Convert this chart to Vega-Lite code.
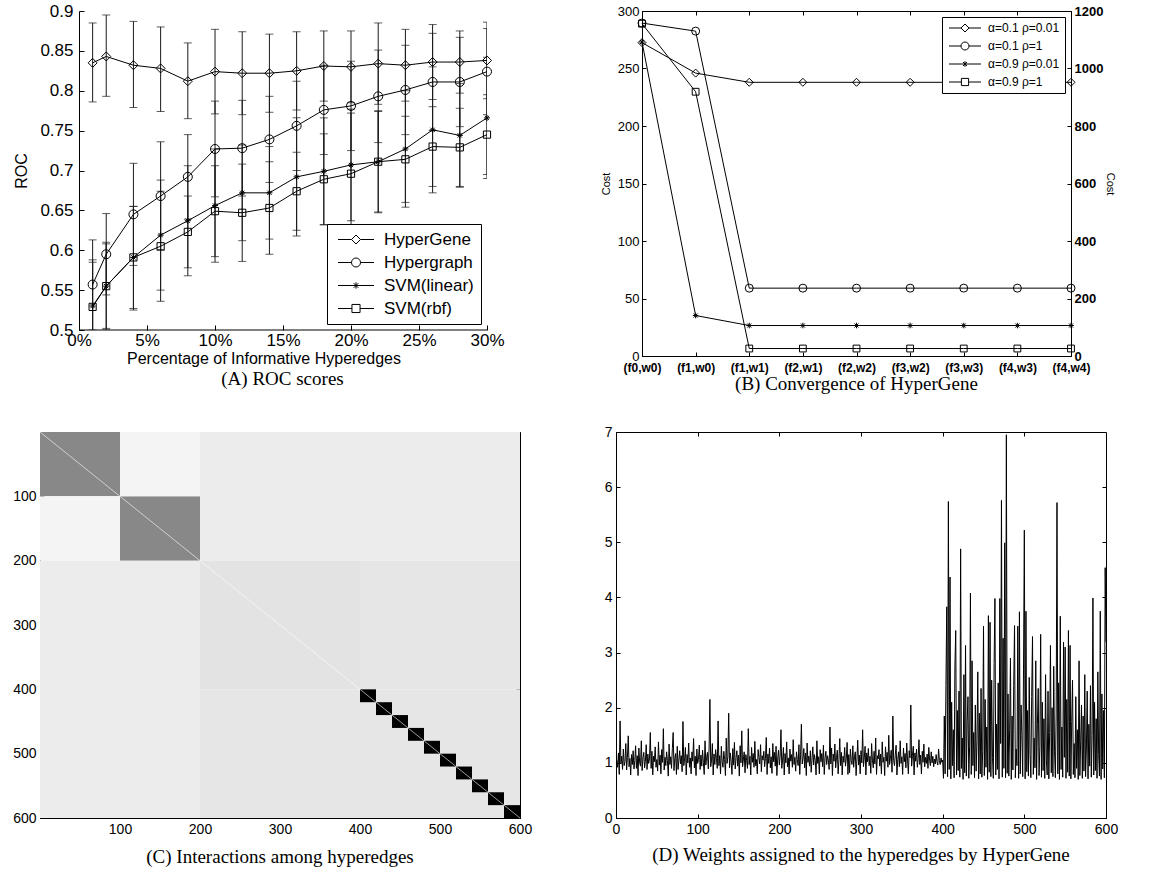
{
"$schema": "https://vega.github.io/schema/vega-lite/v6.json",
"background": "white",
"padding": {"left": 12, "top": 2, "right": 0, "bottom": 0},
"spacing": 29,
"resolve": {"scale": {"shape": "independent", "color": "independent"}},
"config": {
 "font": "Liberation Sans",
 "view": {"stroke": null},
 "axis": {"grid": false, "domainColor": "black", "tickColor": "black", "labelColor": "black", "titleColor": "black", "titleFontWeight": "normal", "tickSize": -4, "labelPadding": 8, "labelOverlap": false, "labelFlush": false, "domainWidth": 1, "tickWidth": 1, "labelFontSize": 14, "titleFontSize": 14},
 "legend": {"strokeColor": "black", "fillColor": "white", "cornerRadius": 0, "labelColor": "black"},
 "title": {"font": "Liberation Serif", "fontSize": 19, "fontWeight": "normal", "color": "black", "anchor": "middle", "frame": "group"}
},
"vconcat": [
 {"spacing": 80, "resolve": {"scale": {"shape": "independent", "color": "independent"}}, "hconcat": [
  {
   "width": 447, "height": 319,
   "title": {"text": "(A) ROC scores", "orient": "bottom", "offset": 4, "dx": 19},
   "data": {"values": [
    {"p":1,"s":"HyperGene","m":0.835,"lo":0.786,"hi":0.885},
    {"p":2,"s":"HyperGene","m":0.843,"lo":0.793,"hi":0.895},
    {"p":4,"s":"HyperGene","m":0.832,"lo":0.779,"hi":0.887},
    {"p":6,"s":"HyperGene","m":0.828,"lo":0.774,"hi":0.880},
    {"p":8,"s":"HyperGene","m":0.812,"lo":0.765,"hi":0.860},
    {"p":10,"s":"HyperGene","m":0.824,"lo":0.771,"hi":0.877},
    {"p":12,"s":"HyperGene","m":0.822,"lo":0.770,"hi":0.874},
    {"p":14,"s":"HyperGene","m":0.822,"lo":0.773,"hi":0.871},
    {"p":16,"s":"HyperGene","m":0.825,"lo":0.776,"hi":0.874},
    {"p":18,"s":"HyperGene","m":0.831,"lo":0.787,"hi":0.875},
    {"p":20,"s":"HyperGene","m":0.830,"lo":0.785,"hi":0.875},
    {"p":22,"s":"HyperGene","m":0.834,"lo":0.783,"hi":0.885},
    {"p":24,"s":"HyperGene","m":0.832,"lo":0.787,"hi":0.877},
    {"p":26,"s":"HyperGene","m":0.836,"lo":0.789,"hi":0.883},
    {"p":28,"s":"HyperGene","m":0.836,"lo":0.797,"hi":0.875},
    {"p":30,"s":"HyperGene","m":0.838,"lo":0.790,"hi":0.886},
    {"p":1,"s":"Hypergraph","m":0.557,"lo":0.500,"hi":0.613},
    {"p":2,"s":"Hypergraph","m":0.595,"lo":0.544,"hi":0.646},
    {"p":4,"s":"Hypergraph","m":0.645,"lo":0.581,"hi":0.709},
    {"p":6,"s":"Hypergraph","m":0.668,"lo":0.600,"hi":0.736},
    {"p":8,"s":"Hypergraph","m":0.692,"lo":0.639,"hi":0.745},
    {"p":10,"s":"Hypergraph","m":0.727,"lo":0.667,"hi":0.787},
    {"p":12,"s":"Hypergraph","m":0.728,"lo":0.668,"hi":0.788},
    {"p":14,"s":"Hypergraph","m":0.739,"lo":0.685,"hi":0.793},
    {"p":16,"s":"Hypergraph","m":0.756,"lo":0.700,"hi":0.812},
    {"p":18,"s":"Hypergraph","m":0.776,"lo":0.720,"hi":0.832},
    {"p":20,"s":"Hypergraph","m":0.781,"lo":0.725,"hi":0.837},
    {"p":22,"s":"Hypergraph","m":0.793,"lo":0.735,"hi":0.851},
    {"p":24,"s":"Hypergraph","m":0.801,"lo":0.745,"hi":0.857},
    {"p":26,"s":"Hypergraph","m":0.811,"lo":0.750,"hi":0.872},
    {"p":28,"s":"Hypergraph","m":0.811,"lo":0.755,"hi":0.867},
    {"p":30,"s":"Hypergraph","m":0.824,"lo":0.770,"hi":0.878},
    {"p":1,"s":"SVM(linear)","m":0.530,"lo":0.475,"hi":0.585},
    {"p":2,"s":"SVM(linear)","m":0.555,"lo":0.500,"hi":0.610},
    {"p":4,"s":"SVM(linear)","m":0.591,"lo":0.525,"hi":0.655},
    {"p":6,"s":"SVM(linear)","m":0.619,"lo":0.550,"hi":0.688},
    {"p":8,"s":"SVM(linear)","m":0.637,"lo":0.568,"hi":0.706},
    {"p":10,"s":"SVM(linear)","m":0.656,"lo":0.585,"hi":0.727},
    {"p":12,"s":"SVM(linear)","m":0.672,"lo":0.612,"hi":0.732},
    {"p":14,"s":"SVM(linear)","m":0.672,"lo":0.614,"hi":0.730},
    {"p":16,"s":"SVM(linear)","m":0.692,"lo":0.618,"hi":0.766},
    {"p":18,"s":"SVM(linear)","m":0.699,"lo":0.632,"hi":0.766},
    {"p":20,"s":"SVM(linear)","m":0.707,"lo":0.637,"hi":0.777},
    {"p":22,"s":"SVM(linear)","m":0.711,"lo":0.648,"hi":0.774},
    {"p":24,"s":"SVM(linear)","m":0.727,"lo":0.654,"hi":0.800},
    {"p":26,"s":"SVM(linear)","m":0.751,"lo":0.672,"hi":0.830},
    {"p":28,"s":"SVM(linear)","m":0.744,"lo":0.679,"hi":0.809},
    {"p":30,"s":"SVM(linear)","m":0.766,"lo":0.690,"hi":0.842},
    {"p":1,"s":"SVM(rbf)","m":0.529,"lo":0.470,"hi":0.588},
    {"p":2,"s":"SVM(rbf)","m":0.555,"lo":0.502,"hi":0.608},
    {"p":4,"s":"SVM(rbf)","m":0.591,"lo":0.527,"hi":0.655},
    {"p":6,"s":"SVM(rbf)","m":0.605,"lo":0.536,"hi":0.674},
    {"p":8,"s":"SVM(rbf)","m":0.623,"lo":0.578,"hi":0.668},
    {"p":10,"s":"SVM(rbf)","m":0.649,"lo":0.592,"hi":0.706},
    {"p":12,"s":"SVM(rbf)","m":0.647,"lo":0.586,"hi":0.708},
    {"p":14,"s":"SVM(rbf)","m":0.653,"lo":0.595,"hi":0.711},
    {"p":16,"s":"SVM(rbf)","m":0.674,"lo":0.625,"hi":0.723},
    {"p":18,"s":"SVM(rbf)","m":0.689,"lo":0.632,"hi":0.746},
    {"p":20,"s":"SVM(rbf)","m":0.696,"lo":0.620,"hi":0.772},
    {"p":22,"s":"SVM(rbf)","m":0.711,"lo":0.647,"hi":0.775},
    {"p":24,"s":"SVM(rbf)","m":0.714,"lo":0.660,"hi":0.768},
    {"p":26,"s":"SVM(rbf)","m":0.730,"lo":0.680,"hi":0.780},
    {"p":28,"s":"SVM(rbf)","m":0.729,"lo":0.680,"hi":0.778},
    {"p":30,"s":"SVM(rbf)","m":0.745,"lo":0.695,"hi":0.795}
   ]},
   "layer": [
    {"encoding": {
      "x": {"field": "p", "type": "quantitative", "scale": {"domain": [-2.87, 30], "nice": false, "zero": false},
       "axis": {"values": [0,5,10,15,20,25,30], "labelExpr": "datum.value + '%'", "title": "Percentage of Informative Hyperedges", "labelFontSize": 17, "titleFontSize": 16, "titlePadding": 2, "tickSize": -5, "labelPadding": 7, "domain": false}},
      "y": {"field": "m", "type": "quantitative", "scale": {"domain": [0.5, 0.9]},
       "axis": {"values": [0.5,0.55,0.6,0.65,0.7,0.75,0.8,0.85,0.9], "format": "~g", "title": "ROC", "labelFontSize": 17, "titleFontSize": 16, "titlePadding": 10, "tickSize": -5, "labelPadding": 11, "offset": -39}}
     },
     "layer": [
      {"data": {"values": [{"x0": 0, "x1": 30, "yb": 0.5}]},
       "mark": {"type": "rule", "color": "black", "strokeWidth": 1},
       "encoding": {"x": {"field": "x0", "type": "quantitative", "title": "Percentage of Informative Hyperedges"}, "x2": {"field": "x1"}, "y": {"field": "yb", "type": "quantitative", "title": "ROC"}}},
      {"mark": {"type": "rule", "clip": true, "strokeWidth": 1, "color": "#1a1a1a"},
       "encoding": {"y": {"field": "lo", "type": "quantitative", "title": "ROC"}, "y2": {"field": "hi"}}},
      {"mark": {"type": "tick", "orient": "horizontal", "size": 8, "thickness": 1, "clip": true, "color": "#1a1a1a"},
       "encoding": {"y": {"field": "lo", "type": "quantitative", "title": "ROC"}}},
      {"mark": {"type": "tick", "orient": "horizontal", "size": 8, "thickness": 1, "clip": true, "color": "#1a1a1a"},
       "encoding": {"y": {"field": "hi", "type": "quantitative", "title": "ROC"}}},
      {"mark": {"type": "line", "color": "black", "strokeWidth": 1},
       "encoding": {"detail": {"field": "s"}}},
      {"mark": {"type": "point", "filled": false, "size": 81, "strokeWidth": 1, "color": "black", "opacity": 1},
       "encoding": {
        "shape": {"field": "s", "type": "nominal",
         "scale": {"domain": ["HyperGene","Hypergraph","SVM(linear)","SVM(rbf)"], "range": ["diamond","circle","M-0.67,0L0.67,0M0,-0.67L0,0.67M-0.47,-0.47L0.47,0.47M-0.47,0.47L0.47,-0.47","M-0.8,-0.8L0.8,-0.8L0.8,0.8L-0.8,0.8Z"]},
         "legend": null}
       }}
     ]},
    {"mark": {"type": "point", "opacity": 0, "filled": false, "color": "black", "size": 81},
     "encoding": {
      "x": {"field": "p", "type": "quantitative", "axis": null},
      "y": {"field": "m", "type": "quantitative", "axis": null},
      "shape": {"field": "s", "type": "nominal",
       "scale": {"domain": ["HyperGene","Hypergraph","SVM(linear)","SVM(rbf)"], "range": ["M-1,0L2,0M4,0L7,0M3,-1L4,0L3,1L2,0Z","M-1,0L2,0M4,0L7,0M2,0A1,1 0 1,0 4,0A1,1 0 1,0 2,0","M-1,0L7,0M3,-0.7L3,0.7M2.5,-0.5L3.5,0.5M2.5,0.5L3.5,-0.5","M-1,0L2.1,0M3.9,0L7,0M2.1,-0.9L3.9,-0.9L3.9,0.9L2.1,0.9Z"]},
       "legend": {"title": null, "orient": "bottom-right", "offset": 6, "padding": 7, "labelFontSize": 17, "symbolSize": 81, "symbolStrokeWidth": 1, "symbolStrokeColor": "black", "symbolFillColor": "transparent", "symbolOpacity": 1, "labelOffset": 33, "rowPadding": 5}}
     }}
   ],
   "resolve": {"scale": {"shape": "independent"}, "axis": {"x": "independent", "y": "independent"}}
  },
  {
   "width": 429, "height": 345,
   "view": {"stroke": "black"},
   "title": {"text": "(B) Convergence of HyperGene", "orient": "bottom", "offset": 2},
   "data": {"values": [
    {"k":"(f0,w0)","s":"α=0.1 ρ=0.01","c":272.5},
    {"k":"(f1,w0)","s":"α=0.1 ρ=0.01","c":246},
    {"k":"(f1,w1)","s":"α=0.1 ρ=0.01","c":238},
    {"k":"(f2,w1)","s":"α=0.1 ρ=0.01","c":238},
    {"k":"(f2,w2)","s":"α=0.1 ρ=0.01","c":238},
    {"k":"(f3,w2)","s":"α=0.1 ρ=0.01","c":238},
    {"k":"(f3,w3)","s":"α=0.1 ρ=0.01","c":238},
    {"k":"(f4,w3)","s":"α=0.1 ρ=0.01","c":238},
    {"k":"(f4,w4)","s":"α=0.1 ρ=0.01","c":238},
    {"k":"(f0,w0)","s":"α=0.1 ρ=1","c":289.5},
    {"k":"(f1,w0)","s":"α=0.1 ρ=1","c":282.5},
    {"k":"(f1,w1)","s":"α=0.1 ρ=1","c":59},
    {"k":"(f2,w1)","s":"α=0.1 ρ=1","c":59},
    {"k":"(f2,w2)","s":"α=0.1 ρ=1","c":59},
    {"k":"(f3,w2)","s":"α=0.1 ρ=1","c":59},
    {"k":"(f3,w3)","s":"α=0.1 ρ=1","c":59},
    {"k":"(f4,w3)","s":"α=0.1 ρ=1","c":59},
    {"k":"(f4,w4)","s":"α=0.1 ρ=1","c":59},
    {"k":"(f0,w0)","s":"α=0.9 ρ=0.01","c":273},
    {"k":"(f1,w0)","s":"α=0.9 ρ=0.01","c":35.2},
    {"k":"(f1,w1)","s":"α=0.9 ρ=0.01","c":26.5},
    {"k":"(f2,w1)","s":"α=0.9 ρ=0.01","c":26.5},
    {"k":"(f2,w2)","s":"α=0.9 ρ=0.01","c":26.5},
    {"k":"(f3,w2)","s":"α=0.9 ρ=0.01","c":26.5},
    {"k":"(f3,w3)","s":"α=0.9 ρ=0.01","c":26.5},
    {"k":"(f4,w3)","s":"α=0.9 ρ=0.01","c":26.5},
    {"k":"(f4,w4)","s":"α=0.9 ρ=0.01","c":26.5},
    {"k":"(f0,w0)","s":"α=0.9 ρ=1","c":289},
    {"k":"(f1,w0)","s":"α=0.9 ρ=1","c":229.8},
    {"k":"(f1,w1)","s":"α=0.9 ρ=1","c":6.5},
    {"k":"(f2,w1)","s":"α=0.9 ρ=1","c":6.5},
    {"k":"(f2,w2)","s":"α=0.9 ρ=1","c":6.5},
    {"k":"(f3,w2)","s":"α=0.9 ρ=1","c":6.5},
    {"k":"(f3,w3)","s":"α=0.9 ρ=1","c":6.5},
    {"k":"(f4,w3)","s":"α=0.9 ρ=1","c":6.5},
    {"k":"(f4,w4)","s":"α=0.9 ρ=1","c":6.5}
   ]},
   "layer": [
    {"encoding": {
      "x": {"field": "k", "type": "ordinal", "sort": null, "scale": {"type": "point", "padding": 0}, "axis": {"title": null, "labelAngle": 0, "labelFontSize": 12, "labelFontWeight": "bold", "labelPadding": 10}},
      "y": {"field": "c", "type": "quantitative", "scale": {"domain": [0, 300]}, "axis": {"values": [0,50,100,150,200,250,300], "title": "Cost", "titleFontSize": 11, "labelFontSize": 13, "labelPadding": 7, "titlePadding": 6}}
     },
     "layer": [
      {"mark": {"type": "line", "color": "black", "strokeWidth": 1}, "encoding": {"detail": {"field": "s"}}},
      {"mark": {"type": "point", "filled": false, "size": 64, "strokeWidth": 1, "color": "black", "opacity": 1},
       "encoding": {
        "shape": {"field": "s", "type": "nominal",
         "scale": {"domain": ["α=0.1 ρ=0.01","α=0.1 ρ=1","α=0.9 ρ=0.01","α=0.9 ρ=1"], "range": ["diamond","circle","M-0.7,0L0.7,0M0,-0.7L0,0.7M-0.5,-0.5L0.5,0.5M-0.5,0.5L0.5,-0.5","M-0.85,-0.85L0.85,-0.85L0.85,0.85L-0.85,0.85Z"]},
         "legend": null}
       }}
     ]},
    {"mark": {"type": "point", "opacity": 0, "filled": false, "color": "black", "size": 64},
     "encoding": {
      "x": {"field": "k", "type": "ordinal", "sort": null, "axis": {"orient": "top", "labels": false, "domain": false, "title": null}},
      "y": {"field": "c", "type": "quantitative", "scale": {"domain": [0, 1200]}, "axis": {"orient": "right", "values": [0,200,400,600,800,1000,1200], "format": "d", "title": "Cost", "titleFontSize": 11, "labelFontSize": 13, "labelFontWeight": "bold", "labelPadding": 7, "titlePadding": 2, "domain": false}},
      "shape": {"field": "s", "type": "nominal",
       "scale": {"domain": ["α=0.1 ρ=0.01","α=0.1 ρ=1","α=0.9 ρ=0.01","α=0.9 ρ=1"], "range": ["M-1,0L2,0M4,0L7,0M3,-1L4,0L3,1L2,0Z","M-1,0L2,0M4,0L7,0M2,0A1,1 0 1,0 4,0A1,1 0 1,0 2,0","M-1,0L7,0M3,-0.7L3,0.7M2.5,-0.5L3.5,0.5M2.5,0.5L3.5,-0.5","M-1,0L2.1,0M3.9,0L7,0M2.1,-0.9L3.9,-0.9L3.9,0.9L2.1,0.9Z"]},
       "legend": {"title": null, "orient": "top-right", "offset": 6, "padding": 5, "labelFontSize": 12, "symbolSize": 64, "symbolStrokeWidth": 1, "symbolStrokeColor": "black", "symbolFillColor": "transparent", "symbolOpacity": 1, "labelOffset": 29, "rowPadding": 6}}
     }}
   ],
   "resolve": {"scale": {"y": "independent", "shape": "independent"}, "axis": {"x": "independent", "y": "independent"}}
  }
 ]},
 {"spacing": 70, "resolve": {"scale": {"shape": "independent", "color": "independent"}}, "hconcat": [
  {
   "width": 480, "height": 386,
   "view": {"stroke": "black"},
   "title": {"text": "(C) Interactions among hyperedges", "orient": "bottom", "offset": 12},
   "layer": [
    {"data": {"values": [
      {"x0":0,"x1":100,"y0":0,"y1":100,"v":0.467},
      {"x0":100,"x1":200,"y0":100,"y1":200,"v":0.467},
      {"x0":0,"x1":100,"y0":100,"y1":200,"v":0.043},
      {"x0":100,"x1":200,"y0":0,"y1":100,"v":0.043},
      {"x0":200,"x1":600,"y0":0,"y1":200,"v":0.075},
      {"x0":0,"x1":200,"y0":200,"y1":600,"v":0.075},
      {"x0":200,"x1":400,"y0":200,"y1":400,"v":0.11},
      {"x0":400,"x1":600,"y0":200,"y1":400,"v":0.098},
      {"x0":200,"x1":400,"y0":400,"y1":600,"v":0.098},
      {"x0":400,"x1":600,"y0":400,"y1":600,"v":0.098},
      {"x0":400,"x1":420,"y0":400,"y1":420,"v":1},
      {"x0":420,"x1":440,"y0":420,"y1":440,"v":1},
      {"x0":440,"x1":460,"y0":440,"y1":460,"v":1},
      {"x0":460,"x1":480,"y0":460,"y1":480,"v":1},
      {"x0":480,"x1":500,"y0":480,"y1":500,"v":1},
      {"x0":500,"x1":520,"y0":500,"y1":520,"v":1},
      {"x0":520,"x1":540,"y0":520,"y1":540,"v":1},
      {"x0":540,"x1":560,"y0":540,"y1":560,"v":1},
      {"x0":560,"x1":580,"y0":560,"y1":580,"v":1},
      {"x0":580,"x1":600,"y0":580,"y1":600,"v":1}
     ]},
     "mark": {"type": "rect"},
     "encoding": {
      "x": {"field": "x0", "type": "quantitative", "scale": {"domain": [0, 600]}, "axis": {"values": [100,200,300,400,500,600], "title": null}},
      "x2": {"field": "x1"},
      "y": {"field": "y0", "type": "quantitative", "scale": {"domain": [0, 600], "reverse": true}, "axis": {"values": [100,200,300,400,500,600], "title": null}},
      "y2": {"field": "y1"},
      "color": {"field": "v", "type": "quantitative", "scale": {"domain": [0, 1], "range": ["#ffffff", "#000000"], "interpolate": "rgb"}, "legend": null}
     }},
    {"data": {"values": [{"a0": 0, "a1": 600}]},
     "mark": {"type": "rule", "color": "white", "opacity": 0.6, "strokeWidth": 1},
     "encoding": {
      "x": {"field": "a0", "type": "quantitative", "axis": null},
      "x2": {"field": "a1"},
      "y": {"field": "a0", "type": "quantitative", "axis": null},
      "y2": {"field": "a1"}
     }},
    {"data": {"values": [{"a": 300}]},
     "mark": {"type": "point", "opacity": 0},
     "encoding": {
      "x": {"field": "a", "type": "quantitative", "axis": {"orient": "top", "values": [100,200,300,400,500,600], "labels": false, "domain": false, "title": null}},
      "y": {"field": "a", "type": "quantitative", "axis": {"orient": "right", "values": [100,200,300,400,500,600], "labels": false, "domain": false, "title": null}}
     }}
   ],
   "resolve": {"axis": {"x": "independent", "y": "independent"}}
  },
  {
   "width": 490, "height": 386,
   "view": {"stroke": "black"},
   "title": {"text": "(D) Weights assigned to the hyperedges by HyperGene", "orient": "bottom", "offset": 10},
   "layer": [
    {"data": {"values": [
{"i":1,"w":1.05},{"i":2,"w":0.92},{"i":3,"w":1.18},{"i":4,"w":0.79},{"i":5,"w":1.76},{"i":6,"w":0.98},{"i":7,"w":1.12},{"i":8,"w":0.88},{"i":9,"w":1.25},{"i":10,"w":0.95},
{"i":11,"w":1.02},{"i":12,"w":1.35},{"i":13,"w":0.87},{"i":14,"w":1.10},{"i":15,"w":1.49},{"i":16,"w":0.93},{"i":17,"w":1.08},{"i":18,"w":0.78},{"i":19,"w":1.15},{"i":20,"w":0.97},
{"i":21,"w":1.22},{"i":22,"w":0.89},{"i":23,"w":1.04},{"i":24,"w":1.31},{"i":25,"w":0.90},{"i":26,"w":1.13},{"i":27,"w":0.77},{"i":28,"w":1.27},{"i":29,"w":1.00},{"i":30,"w":0.94},
{"i":31,"w":1.40},{"i":32,"w":0.86},{"i":33,"w":1.09},{"i":34,"w":1.19},{"i":35,"w":0.91},{"i":36,"w":1.03},{"i":37,"w":1.33},{"i":38,"w":0.88},{"i":39,"w":1.16},{"i":40,"w":0.99},
{"i":41,"w":1.07},{"i":42,"w":1.55},{"i":43,"w":0.90},{"i":44,"w":1.21},{"i":45,"w":0.78},{"i":46,"w":1.12},{"i":47,"w":1.02},{"i":48,"w":1.29},{"i":49,"w":0.92},{"i":50,"w":1.06},
{"i":51,"w":0.85},{"i":52,"w":1.38},{"i":53,"w":0.96},{"i":54,"w":1.14},{"i":55,"w":0.80},{"i":56,"w":1.24},{"i":57,"w":1.01},{"i":58,"w":1.62},{"i":59,"w":0.87},{"i":60,"w":1.10},
{"i":61,"w":0.95},{"i":62,"w":1.20},{"i":63,"w":1.04},{"i":64,"w":0.76},{"i":65,"w":1.34},{"i":66,"w":0.97},{"i":67,"w":1.11},{"i":68,"w":0.90},{"i":69,"w":1.26},{"i":70,"w":1.55},
{"i":71,"w":0.86},{"i":72,"w":1.08},{"i":73,"w":1.17},{"i":74,"w":0.79},{"i":75,"w":1.30},{"i":76,"w":0.88},{"i":77,"w":1.05},{"i":78,"w":1.22},{"i":79,"w":0.98},{"i":80,"w":1.13},
{"i":81,"w":0.84},{"i":82,"w":1.75},{"i":83,"w":0.95},{"i":84,"w":1.07},{"i":85,"w":1.28},{"i":86,"w":0.78},{"i":87,"w":1.15},{"i":88,"w":1.00},{"i":89,"w":1.36},{"i":90,"w":0.92},
{"i":91,"w":1.09},{"i":92,"w":0.80},{"i":93,"w":1.20},{"i":94,"w":1.03},{"i":95,"w":1.44},{"i":96,"w":0.91},{"i":97,"w":1.12},{"i":98,"w":0.77},{"i":99,"w":1.25},{"i":100,"w":0.99},
{"i":101,"w":1.06},{"i":102,"w":1.32},{"i":103,"w":0.88},{"i":104,"w":1.14},{"i":105,"w":0.94},{"i":106,"w":1.23},{"i":107,"w":1.01},{"i":108,"w":0.79},{"i":109,"w":1.40},{"i":110,"w":0.96},
{"i":111,"w":1.10},{"i":112,"w":1.19},{"i":113,"w":0.89},{"i":114,"w":1.27},{"i":115,"w":2.15},{"i":116,"w":0.93},{"i":117,"w":1.05},{"i":118,"w":1.35},{"i":119,"w":0.78},{"i":120,"w":1.16},
{"i":121,"w":0.97},{"i":122,"w":1.24},{"i":123,"w":1.08},{"i":124,"w":0.90},{"i":125,"w":1.76},{"i":126,"w":0.95},{"i":127,"w":1.13},{"i":128,"w":0.80},{"i":129,"w":1.30},{"i":130,"w":1.02},
{"i":131,"w":0.92},{"i":132,"w":1.21},{"i":133,"w":1.06},{"i":134,"w":0.77},{"i":135,"w":1.45},{"i":136,"w":0.99},{"i":137,"w":1.11},{"i":138,"w":1.90},{"i":139,"w":0.91},{"i":140,"w":1.18},
{"i":141,"w":1.03},{"i":142,"w":0.79},{"i":143,"w":1.26},{"i":144,"w":0.96},{"i":145,"w":1.37},{"i":146,"w":0.89},{"i":147,"w":1.09},{"i":148,"w":1.22},{"i":149,"w":0.94},{"i":150,"w":1.14},
{"i":151,"w":0.76},{"i":152,"w":1.31},{"i":153,"w":1.00},{"i":154,"w":1.58},{"i":155,"w":0.93},{"i":156,"w":1.07},{"i":157,"w":1.20},{"i":158,"w":0.82},{"i":159,"w":1.15},{"i":160,"w":1.04},
{"i":161,"w":0.90},{"i":162,"w":1.62},{"i":163,"w":0.97},{"i":164,"w":1.12},{"i":165,"w":0.78},{"i":166,"w":1.28},{"i":167,"w":1.01},{"i":168,"w":1.17},{"i":169,"w":0.92},{"i":170,"w":1.39},
{"i":171,"w":0.95},{"i":172,"w":1.06},{"i":173,"w":0.80},{"i":174,"w":1.24},{"i":175,"w":1.10},{"i":176,"w":0.98},{"i":177,"w":1.33},{"i":178,"w":0.84},{"i":179,"w":1.13},{"i":180,"w":1.05},
{"i":181,"w":1.21},{"i":182,"w":0.93},{"i":183,"w":1.08},{"i":184,"w":1.46},{"i":185,"w":0.79},{"i":186,"w":1.16},{"i":187,"w":0.99},{"i":188,"w":1.27},{"i":189,"w":0.91},{"i":190,"w":1.11},
{"i":191,"w":0.81},{"i":192,"w":1.35},{"i":193,"w":1.02},{"i":194,"w":1.19},{"i":195,"w":0.94},{"i":196,"w":1.30},{"i":197,"w":0.77},{"i":198,"w":1.07},{"i":199,"w":1.23},{"i":200,"w":0.96},
{"i":201,"w":1.12},{"i":202,"w":1.60},{"i":203,"w":0.90},{"i":204,"w":1.05},{"i":205,"w":1.28},{"i":206,"w":0.78},{"i":207,"w":1.17},{"i":208,"w":1.00},{"i":209,"w":1.38},{"i":210,"w":0.93},
{"i":211,"w":1.09},{"i":212,"w":0.80},{"i":213,"w":1.25},{"i":214,"w":1.03},{"i":215,"w":1.15},{"i":216,"w":0.92},{"i":217,"w":1.42},{"i":218,"w":0.97},{"i":219,"w":1.10},{"i":220,"w":0.85},
{"i":221,"w":1.20},{"i":222,"w":1.06},{"i":223,"w":0.95},{"i":224,"w":1.33},{"i":225,"w":0.79},{"i":226,"w":1.14},{"i":227,"w":1.70},{"i":228,"w":0.98},{"i":229,"w":1.08},{"i":230,"w":1.26},
{"i":231,"w":0.91},{"i":232,"w":1.18},{"i":233,"w":0.77},{"i":234,"w":1.36},{"i":235,"w":1.01},{"i":236,"w":1.12},{"i":237,"w":0.94},{"i":238,"w":1.22},{"i":239,"w":0.83},{"i":240,"w":1.07},
{"i":241,"w":1.29},{"i":242,"w":0.96},{"i":243,"w":1.15},{"i":244,"w":1.04},{"i":245,"w":0.78},{"i":246,"w":1.40},{"i":247,"w":0.99},{"i":248,"w":1.11},{"i":249,"w":0.80},{"i":250,"w":1.24},
{"i":251,"w":1.02},{"i":252,"w":1.17},{"i":253,"w":0.93},{"i":254,"w":1.32},{"i":255,"w":0.79},{"i":256,"w":1.09},{"i":257,"w":1.21},{"i":258,"w":0.97},{"i":259,"w":1.13},{"i":260,"w":1.05},
{"i":261,"w":0.88},{"i":262,"w":1.65},{"i":263,"w":0.98},{"i":264,"w":1.27},{"i":265,"w":0.77},{"i":266,"w":1.16},{"i":267,"w":1.03},{"i":268,"w":1.34},{"i":269,"w":0.91},{"i":270,"w":1.10},
{"i":271,"w":1.23},{"i":272,"w":0.80},{"i":273,"w":1.06},{"i":274,"w":1.44},{"i":275,"w":0.95},{"i":276,"w":1.19},{"i":277,"w":0.78},{"i":278,"w":1.12},{"i":279,"w":1.01},{"i":280,"w":1.28},
{"i":281,"w":0.94},{"i":282,"w":1.08},{"i":283,"w":1.37},{"i":284,"w":0.79},{"i":285,"w":1.15},{"i":286,"w":0.82},{"i":287,"w":1.25},{"i":288,"w":1.04},{"i":289,"w":0.97},{"i":290,"w":1.31},
{"i":291,"w":0.92},{"i":292,"w":1.11},{"i":293,"w":1.20},{"i":294,"w":0.77},{"i":295,"w":1.07},{"i":296,"w":1.41},{"i":297,"w":0.96},{"i":298,"w":1.14},{"i":299,"w":0.80},{"i":300,"w":1.22},
{"i":301,"w":1.00},{"i":302,"w":1.60},{"i":303,"w":0.93},{"i":304,"w":1.09},{"i":305,"w":1.30},{"i":306,"w":0.78},{"i":307,"w":1.18},{"i":308,"w":1.02},{"i":309,"w":1.26},{"i":310,"w":0.95},
{"i":311,"w":1.12},{"i":312,"w":0.81},{"i":313,"w":1.35},{"i":314,"w":1.05},{"i":315,"w":0.91},{"i":316,"w":1.21},{"i":317,"w":0.98},{"i":318,"w":1.45},{"i":319,"w":0.79},{"i":320,"w":1.13},
{"i":321,"w":1.07},{"i":322,"w":1.24},{"i":323,"w":0.94},{"i":324,"w":1.16},{"i":325,"w":0.80},{"i":326,"w":1.38},{"i":327,"w":1.01},{"i":328,"w":1.10},{"i":329,"w":0.77},{"i":330,"w":1.29},
{"i":331,"w":1.03},{"i":332,"w":1.19},{"i":333,"w":0.92},{"i":334,"w":1.50},{"i":335,"w":0.97},{"i":336,"w":1.08},{"i":337,"w":1.23},{"i":338,"w":0.83},{"i":339,"w":1.85},{"i":340,"w":1.04},
{"i":341,"w":0.95},{"i":342,"w":1.15},{"i":343,"w":1.32},{"i":344,"w":0.78},{"i":345,"w":1.06},{"i":346,"w":1.20},{"i":347,"w":0.93},{"i":348,"w":1.40},{"i":349,"w":0.99},{"i":350,"w":1.11},
{"i":351,"w":0.79},{"i":352,"w":1.27},{"i":353,"w":1.02},{"i":354,"w":1.17},{"i":355,"w":0.91},{"i":356,"w":1.36},{"i":357,"w":1.05},{"i":358,"w":0.80},{"i":359,"w":1.22},{"i":360,"w":1.09},
{"i":361,"w":2.05},{"i":362,"w":0.94},{"i":363,"w":1.13},{"i":364,"w":1.30},{"i":365,"w":0.78},{"i":366,"w":1.18},{"i":367,"w":1.03},{"i":368,"w":1.25},{"i":369,"w":0.92},{"i":370,"w":1.08},
{"i":371,"w":1.42},{"i":372,"w":0.97},{"i":373,"w":1.14},{"i":374,"w":0.80},{"i":375,"w":1.21},{"i":376,"w":1.01},{"i":377,"w":1.34},{"i":378,"w":0.93},{"i":379,"w":1.10},{"i":380,"w":0.99},
{"i":381,"w":1.16},{"i":382,"w":0.90},{"i":383,"w":1.28},{"i":384,"w":1.05},{"i":385,"w":0.95},{"i":386,"w":1.20},{"i":387,"w":1.00},{"i":388,"w":1.12},{"i":389,"w":0.93},{"i":390,"w":1.07},
{"i":391,"w":0.98},{"i":392,"w":1.15},{"i":393,"w":1.02},{"i":394,"w":0.96},{"i":395,"w":1.25},{"i":396,"w":1.04},{"i":397,"w":0.97},{"i":398,"w":1.09},{"i":399,"w":1.01},{"i":400,"w":1.05},
{"i":401,"w":0.72},{"i":402,"w":1.85},{"i":403,"w":0.80},{"i":404,"w":2.40},{"i":405,"w":3.83},{"i":406,"w":0.75},{"i":407,"w":5.74},{"i":408,"w":0.88},{"i":409,"w":4.37},{"i":410,"w":0.71},
{"i":411,"w":2.10},{"i":412,"w":0.95},{"i":413,"w":1.60},{"i":414,"w":0.73},{"i":415,"w":2.75},{"i":416,"w":3.40},{"i":417,"w":0.78},{"i":418,"w":1.95},{"i":419,"w":0.86},{"i":420,"w":2.30},
{"i":421,"w":0.74},{"i":422,"w":4.88},{"i":423,"w":0.90},{"i":424,"w":1.45},{"i":425,"w":0.70},{"i":426,"w":2.60},{"i":427,"w":0.82},{"i":428,"w":3.13},{"i":429,"w":0.76},{"i":430,"w":1.75},
{"i":431,"w":2.20},{"i":432,"w":0.72},{"i":433,"w":1.30},{"i":434,"w":4.08},{"i":435,"w":0.79},{"i":436,"w":2.85},{"i":437,"w":0.95},{"i":438,"w":1.55},{"i":439,"w":0.73},{"i":440,"w":2.05},
{"i":441,"w":0.85},{"i":442,"w":1.40},{"i":443,"w":2.65},{"i":444,"w":0.71},{"i":445,"w":1.90},{"i":446,"w":0.80},{"i":447,"w":2.35},{"i":448,"w":0.74},{"i":449,"w":1.20},{"i":450,"w":3.48},
{"i":451,"w":0.77},{"i":452,"w":2.15},{"i":453,"w":0.92},{"i":454,"w":1.65},{"i":455,"w":0.70},{"i":456,"w":3.67},{"i":457,"w":0.83},{"i":458,"w":3.55},{"i":459,"w":0.75},{"i":460,"w":2.50},
{"i":461,"w":1.10},{"i":462,"w":0.72},{"i":463,"w":2.80},{"i":464,"w":3.98},{"i":465,"w":0.78},{"i":466,"w":1.70},{"i":467,"w":0.88},{"i":468,"w":2.45},{"i":469,"w":0.71},{"i":470,"w":3.98},
{"i":471,"w":1.35},{"i":472,"w":5.76},{"i":473,"w":0.74},{"i":474,"w":3.26},{"i":475,"w":0.90},{"i":476,"w":4.99},{"i":477,"w":0.73},{"i":478,"w":6.95},{"i":479,"w":0.81},{"i":480,"w":2.25},
{"i":481,"w":0.76},{"i":482,"w":1.60},{"i":483,"w":2.90},{"i":484,"w":0.70},{"i":485,"w":1.85},{"i":486,"w":0.87},{"i":487,"w":2.40},{"i":488,"w":3.49},{"i":489,"w":0.73},{"i":490,"w":1.25},
{"i":491,"w":0.95},{"i":492,"w":3.48},{"i":493,"w":0.72},{"i":494,"w":3.74},{"i":495,"w":0.80},{"i":496,"w":2.05},{"i":497,"w":1.50},{"i":498,"w":0.75},{"i":499,"w":2.70},{"i":500,"w":5.22},
{"i":501,"w":0.71},{"i":502,"w":3.75},{"i":503,"w":0.84},{"i":504,"w":1.95},{"i":505,"w":0.76},{"i":506,"w":2.55},{"i":507,"w":1.15},{"i":508,"w":0.73},{"i":509,"w":2.20},{"i":510,"w":3.29},
{"i":511,"w":0.79},{"i":512,"w":1.45},{"i":513,"w":0.91},{"i":514,"w":2.85},{"i":515,"w":0.70},{"i":516,"w":1.70},{"i":517,"w":2.35},{"i":518,"w":0.77},{"i":519,"w":1.30},{"i":520,"w":3.33},
{"i":521,"w":0.74},{"i":522,"w":2.10},{"i":523,"w":0.86},{"i":524,"w":1.80},{"i":525,"w":0.72},{"i":526,"w":2.60},{"i":527,"w":1.05},{"i":528,"w":0.78},{"i":529,"w":2.30},{"i":530,"w":0.71},
{"i":531,"w":1.55},{"i":532,"w":3.13},{"i":533,"w":0.82},{"i":534,"w":2.00},{"i":535,"w":0.75},{"i":536,"w":2.75},{"i":537,"w":1.20},{"i":538,"w":0.73},{"i":539,"w":1.90},{"i":540,"w":5.72},
{"i":541,"w":0.80},{"i":542,"w":2.45},{"i":543,"w":0.70},{"i":544,"w":3.66},{"i":545,"w":0.88},{"i":546,"w":1.65},{"i":547,"w":0.74},{"i":548,"w":3.19},{"i":549,"w":1.10},{"i":550,"w":3.10},
{"i":551,"w":0.72},{"i":552,"w":2.15},{"i":553,"w":0.83},{"i":554,"w":3.40},{"i":555,"w":0.76},{"i":556,"w":3.13},{"i":557,"w":0.71},{"i":558,"w":1.75},{"i":559,"w":2.50},{"i":560,"w":0.79},
{"i":561,"w":1.35},{"i":562,"w":0.73},{"i":563,"w":2.20},{"i":564,"w":0.90},{"i":565,"w":1.60},{"i":566,"w":0.70},{"i":567,"w":2.85},{"i":568,"w":0.77},{"i":569,"w":1.40},{"i":570,"w":2.05},
{"i":571,"w":0.72},{"i":572,"w":1.85},{"i":573,"w":0.85},{"i":574,"w":2.60},{"i":575,"w":0.75},{"i":576,"w":1.25},{"i":577,"w":2.30},{"i":578,"w":0.71},{"i":579,"w":1.70},{"i":580,"w":0.94},
{"i":581,"w":2.40},{"i":582,"w":0.74},{"i":583,"w":1.50},{"i":584,"w":3.99},{"i":585,"w":0.78},{"i":586,"w":2.10},{"i":587,"w":0.86},{"i":588,"w":1.80},{"i":589,"w":0.72},{"i":590,"w":2.65},
{"i":591,"w":1.15},{"i":592,"w":0.76},{"i":593,"w":3.75},{"i":594,"w":0.70},{"i":595,"w":2.25},{"i":596,"w":0.89},{"i":597,"w":1.95},{"i":598,"w":0.73},{"i":599,"w":4.54},{"i":600,"w":3.19}
     ]},
     "mark": {"type": "line", "color": "black", "strokeWidth": 1},
     "encoding": {
      "x": {"field": "i", "type": "quantitative", "scale": {"domain": [0, 600]}, "axis": {"values": [0,100,200,300,400,500,600], "title": null}},
      "y": {"field": "w", "type": "quantitative", "scale": {"domain": [0, 7]}, "axis": {"values": [0,1,2,3,4,5,6,7], "title": null}}
     }},
    {"data": {"values": [{"a": 3}]},
     "mark": {"type": "point", "opacity": 0},
     "encoding": {
      "x": {"field": "a", "type": "quantitative", "axis": {"orient": "top", "values": [100,200,300,400,500], "labels": false, "domain": false, "title": null}},
      "y": {"field": "a", "type": "quantitative", "axis": {"orient": "right", "values": [1,2,3,4,5,6], "labels": false, "domain": false, "title": null}}
     }}
   ],
   "resolve": {"axis": {"x": "independent", "y": "independent"}}
  }
 ]}
]
}
